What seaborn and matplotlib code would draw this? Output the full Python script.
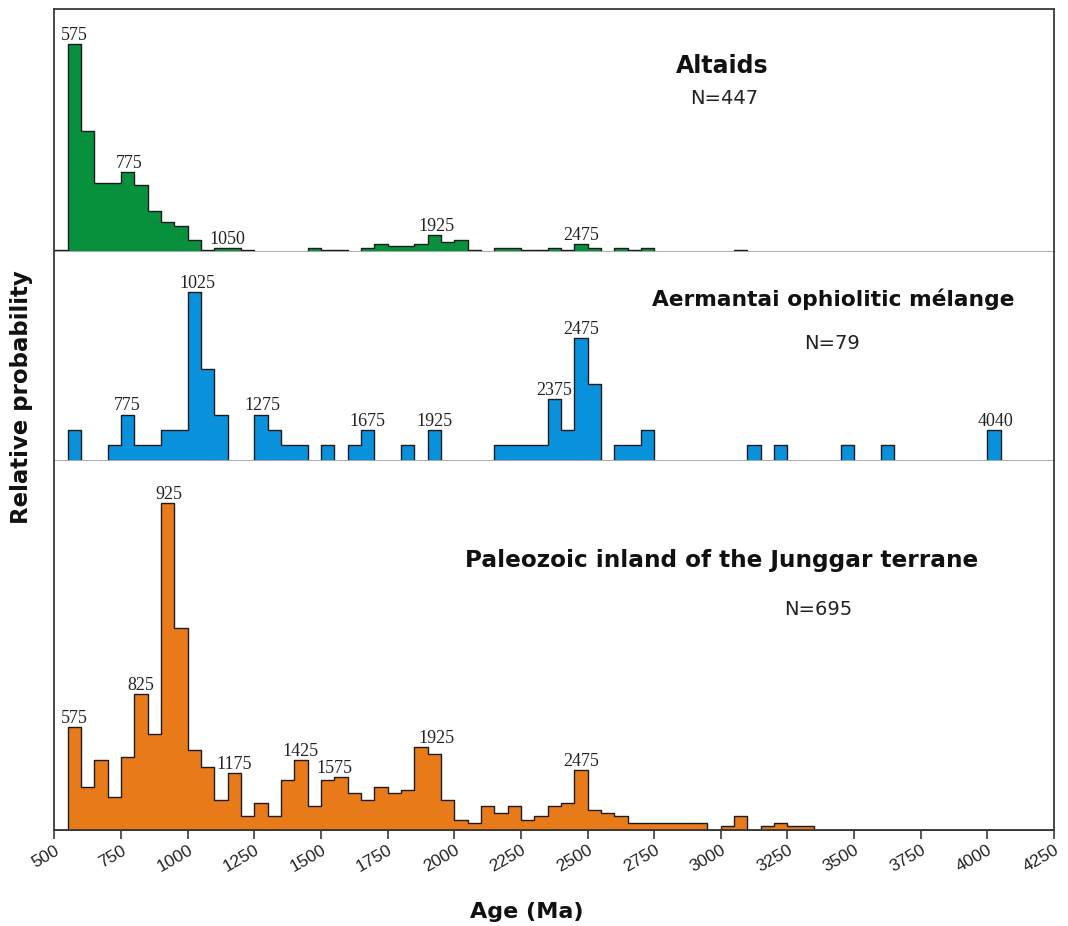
import numpy as np
import pandas as pd
import matplotlib
matplotlib.use("Agg")
import matplotlib.pyplot as plt
import seaborn as sns

# ---------------- data ----------------
bin_width = 50
x_min, x_max = 500, 4250
tick_values = list(range(500, 4251, 250))

altaids_ages = [500, 550, 600, 650, 700, 750, 800, 850, 900, 950, 1000, 1050, 1100, 1150, 1200,
                1450, 1500, 1550, 1650, 1700, 1750, 1800, 1850, 1900, 1950, 2000, 2050,
                2150, 2200, 2250, 2300, 2350, 2400, 2450, 2500, 2600, 2650, 2700, 3050]
altaids_counts = [1, 112, 65, 37, 37, 43, 36, 22, 16, 14, 6, 1, 2, 2, 1,
                  2, 1, 1, 2, 4, 3, 3, 4, 9, 5, 6, 1,
                  2, 2, 1, 1, 2, 1, 4, 2, 2, 1, 2, 1]
altaids_labels = ["575", "775", "1050", "1925", "2475"]
altaids_label_x = [575, 780, 1150, 1935, 2475]

aerm_ages = [550, 700, 750, 800, 850, 900, 950, 1000, 1050, 1100, 1250, 1300, 1350, 1400, 1500,
             1600, 1650, 1800, 1900, 2150, 2200, 2250, 2300, 2350, 2400, 2450, 2500, 2600, 2650,
             2700, 3100, 3200, 3450, 3600, 4000]
aerm_counts = [2, 1, 3, 1, 1, 2, 2, 11, 6, 3, 3, 2, 1, 1, 1,
               1, 2, 1, 2, 1, 1, 1, 1, 4, 2, 8, 5, 1, 1,
               2, 1, 1, 1, 1, 2]
aerm_labels = ["775", "1025", "1275", "1675", "1925", "2375", "2475", "4040"]
aerm_label_x = [775, 1035, 1280, 1675, 1925, 2375, 2477, 4030]

jung_ages = [550, 600, 650, 700, 750, 800, 850, 900, 950, 1000, 1050, 1100, 1150, 1200, 1250,
             1300, 1350, 1400, 1450, 1500, 1550, 1600, 1650, 1700, 1750, 1800, 1850, 1900, 1950,
             2000, 2050, 2100, 2150, 2200, 2250, 2300, 2350, 2400, 2450, 2500, 2550, 2600, 2650,
             2700, 2750, 2800, 2850, 2900, 3000, 3050, 3150, 3200, 3250, 3300]
jung_counts = [31, 13, 21, 10, 22, 41, 29, 99, 61, 24, 19, 9, 17, 4, 8,
               4, 15, 21, 7, 15, 16, 11, 9, 13, 11, 12, 25, 23, 9,
               3, 2, 7, 5, 7, 3, 4, 7, 8, 18, 6, 5, 4, 2,
               2, 2, 2, 2, 2, 1, 4, 1, 2, 1, 1]
jung_labels = ["575", "825", "925", "1175", "1425", "1575", "1925", "2475"]
jung_label_x = [575, 825, 928, 1175, 1422, 1550, 1932, 2478]

titles = ["Altaids", "Aermantai ophiolitic mélange", "Paleozoic inland of the Junggar terrane"]
n_texts = ["N=447", "N=79", "N=695"]
colors = ["#07913c", "#0a91dc", "#e87a1a"]

# ---------------- style ----------------
sns.set_style("white")
plt.rcParams["font.family"] = ["DejaVu Sans"]

W, H = 1068, 926
fig = plt.figure(figsize=(W / 100, H / 100), dpi=100)

def fx(x):
    return x / W

def fy(y):
    return 1 - y / H

L, R = 54.4, 1054.0
panel_px = [(9.3, 251.5), (251.5, 460.7), (460.7, 829.5)]
ylims = [130.9, 13.63, 111.8]
datasets = [(altaids_ages, altaids_counts, altaids_labels, altaids_label_x),
            (aerm_ages, aerm_counts, aerm_labels, aerm_label_x),
            (jung_ages, jung_counts, jung_labels, jung_label_x)]

frame_col = "#3a3a3a"
sep_col = "#b0b0b0"

axes = []
for i, ((top, bot), (ages, counts, labels, lab_x)) in enumerate(zip(panel_px, datasets)):
    ax = fig.add_axes([fx(L), fy(bot), (R - L) / W, (bot - top) / H])
    axes.append(ax)
    df = pd.DataFrame({"age": np.array(ages, dtype=float) + bin_width / 2,
                       "count": np.array(counts, dtype=float)})
    sns.histplot(data=df, x="age", weights="count", binwidth=bin_width,
                 binrange=(x_min, x_max), element="step",
                 fill=True, color=colors[i], alpha=1, edgecolor="#1c1c1c",
                 linewidth=1.0, ax=ax)
    ax.set_xlim(x_min, x_max)
    ax.set_ylim(0, ylims[i])
    ax.set_xlabel("")
    ax.set_ylabel("")
    ax.set_yticks([])
    for s in ax.spines.values():
        s.set_color(frame_col)
        s.set_linewidth(1.3)
    if i > 0:
        ax.spines["top"].set_visible(False)
    if i < 2:
        ax.spines["bottom"].set_visible(False)
        ax.set_xticks([])
        ax.axhline(0, color=sep_col, lw=1.3, zorder=6)
    # peak labels
    ages_arr = np.array(ages)
    cnt_arr = np.array(counts)
    for txt, xv in zip(labels, lab_x):
        mask = (ages_arr < xv + 55) & (ages_arr + bin_width > xv - 55)
        yv = cnt_arr[mask].max() if mask.any() else 0
        ax.annotate(txt, (xv, yv), xytext=(0, 3), textcoords="offset points",
                    ha="center", va="baseline", fontsize=13,
                    family=["Liberation Serif"], color="#222222", zorder=7)

ax = axes[2]
ax.set_xticks(tick_values)
ax.set_xticklabels([str(t) for t in tick_values], rotation=30, ha="right",
                   va="top", rotation_mode="anchor", fontsize=12.5,
                   family=["Liberation Sans"], color="#222222")
ax.tick_params(axis="x", direction="out", length=6.5, width=1.2, color=frame_col,
               bottom=True, pad=3)

# panel titles
fig.text(fx(722), fy(73), titles[0], ha="center", va="baseline", fontsize=17,
         fontweight="bold", color="#111111")
fig.text(fx(724.5), fy(104), n_texts[0], ha="center", va="baseline", fontsize=14,
         color="#222222")
fig.text(fx(833), fy(306), titles[1], ha="center", va="baseline", fontsize=15.7,
         fontweight="bold", color="#111111")
fig.text(fx(832), fy(349), n_texts[1], ha="center", va="baseline", fontsize=14,
         color="#222222")
fig.text(fx(722), fy(567), titles[2], ha="center", va="baseline", fontsize=16.7,
         fontweight="bold", color="#111111")
fig.text(fx(818), fy(615), n_texts[2], ha="center", va="baseline", fontsize=14,
         color="#222222")

# axis labels
fig.text(fx(22), fy(397), "Relative probability", rotation=90, ha="center",
         va="center", fontsize=16.5, fontweight="bold", color="#111111")
fig.text(fx(527), fy(912), "Age (Ma)", ha="center", va="center", fontsize=16,
         fontweight="bold", color="#111111")

fig.savefig("out.png", dpi=100)
